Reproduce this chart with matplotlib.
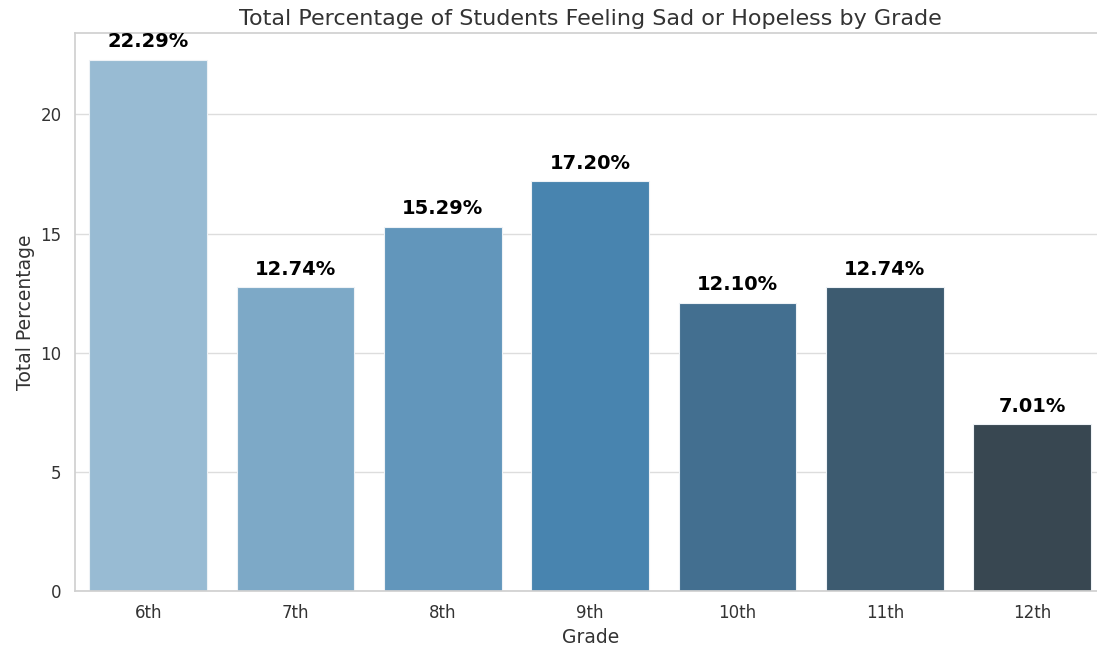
import matplotlib
matplotlib.use("Agg")
import matplotlib.pyplot as plt
import seaborn as sns

grades = ["6th", "7th", "8th", "9th", "10th", "11th", "12th"]
totals = [22.29, 12.74, 15.29, 17.20, 12.10, 12.74, 7.01]

sns.set_theme(style="whitegrid")

fig, ax = plt.subplots(figsize=(10.97, 6.49), dpi=100)
# seaborn barplot default saturation is 0.75
colors = [sns.desaturate(c, 0.75) for c in sns.color_palette("Blues_d", len(grades))]
bars = ax.bar(grades, totals, color=colors, width=0.8, edgecolor="#eef2f6", linewidth=0.8)
ax.set_xlim(-0.5, len(grades) - 0.5)

for b, v in zip(bars, totals):
    ax.text(b.get_x() + b.get_width() / 2, v + 0.35, f"{v:.2f}%",
            ha="center", va="bottom", fontsize=14, fontweight="bold", color="black")

ax.set_title("Total Percentage of Students Feeling Sad or Hopeless by Grade", fontsize=16, color="#333333")
ax.set_xlabel("Grade", fontsize=13.5, color="#333333")
ax.set_ylabel("Total Percentage", fontsize=13.5, color="#333333")
ax.tick_params(labelsize=12, labelcolor="#333333")
ax.xaxis.grid(False)
ax.yaxis.grid(True, color="#dddddd")
for s in ax.spines.values():
    s.set_color("#d0d0d0")

fig.subplots_adjust(left=0.068, right=1.008, top=0.949, bottom=0.089)
fig.savefig("out.png", dpi=100)
